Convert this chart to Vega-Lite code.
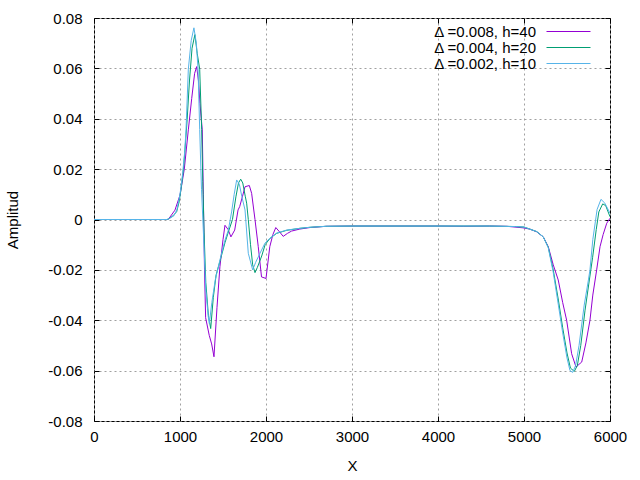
{
  "$schema": "https://vega.github.io/schema/vega-lite/v6.json",
  "width": 516,
  "height": 403,
  "autosize": {"type": "none"},
  "padding": {"left": 94, "top": 18, "right": 30, "bottom": 59},
  "background": "white",
  "config": {
    "view": {"stroke": "black", "strokeWidth": 1},
    "font": "Liberation Sans",
    "axis": {
      "labelFont": "Liberation Sans",
      "titleFont": "Liberation Sans",
      "labelFontSize": 15,
      "titleFontSize": 15,
      "titleFontWeight": "normal",
      "labelColor": "black",
      "titleColor": "black",
      "domain": false,
      "tickColor": "black",
      "gridColor": "#a0a0a0",
      "gridDash": [2, 3],
      "gridOpacity": 1
    }
  },
  "data": {
    "values": [
      {"s": "Δ =0.008, h=40", "x": 0, "y": 0},
      {"s": "Δ =0.008, h=40", "x": 800, "y": 0},
      {"s": "Δ =0.008, h=40", "x": 863, "y": 0},
      {"s": "Δ =0.008, h=40", "x": 941, "y": 0.0037},
      {"s": "Δ =0.008, h=40", "x": 1000, "y": 0.0097},
      {"s": "Δ =0.008, h=40", "x": 1050, "y": 0.02},
      {"s": "Δ =0.008, h=40", "x": 1097, "y": 0.0356},
      {"s": "Δ =0.008, h=40", "x": 1136, "y": 0.048},
      {"s": "Δ =0.008, h=40", "x": 1170, "y": 0.058},
      {"s": "Δ =0.008, h=40", "x": 1194, "y": 0.0607},
      {"s": "Δ =0.008, h=40", "x": 1215, "y": 0.055},
      {"s": "Δ =0.008, h=40", "x": 1232, "y": 0.046},
      {"s": "Δ =0.008, h=40", "x": 1259, "y": 0.0356},
      {"s": "Δ =0.008, h=40", "x": 1271, "y": 0.01},
      {"s": "Δ =0.008, h=40", "x": 1285, "y": -0.02},
      {"s": "Δ =0.008, h=40", "x": 1298, "y": -0.039},
      {"s": "Δ =0.008, h=40", "x": 1340, "y": -0.046},
      {"s": "Δ =0.008, h=40", "x": 1368, "y": -0.0494},
      {"s": "Δ =0.008, h=40", "x": 1395, "y": -0.0545},
      {"s": "Δ =0.008, h=40", "x": 1430, "y": -0.035},
      {"s": "Δ =0.008, h=40", "x": 1464, "y": -0.0188},
      {"s": "Δ =0.008, h=40", "x": 1500, "y": -0.008},
      {"s": "Δ =0.008, h=40", "x": 1523, "y": -0.0023},
      {"s": "Δ =0.008, h=40", "x": 1560, "y": -0.004},
      {"s": "Δ =0.008, h=40", "x": 1592, "y": -0.0069},
      {"s": "Δ =0.008, h=40", "x": 1636, "y": -0.0042},
      {"s": "Δ =0.008, h=40", "x": 1675, "y": 0.0038},
      {"s": "Δ =0.008, h=40", "x": 1694, "y": 0.0051},
      {"s": "Δ =0.008, h=40", "x": 1725, "y": 0.009},
      {"s": "Δ =0.008, h=40", "x": 1756, "y": 0.013},
      {"s": "Δ =0.008, h=40", "x": 1806, "y": 0.0135},
      {"s": "Δ =0.008, h=40", "x": 1833, "y": 0.0104},
      {"s": "Δ =0.008, h=40", "x": 1872, "y": 0},
      {"s": "Δ =0.008, h=40", "x": 1910, "y": -0.0108},
      {"s": "Δ =0.008, h=40", "x": 1948, "y": -0.0228},
      {"s": "Δ =0.008, h=40", "x": 2000, "y": -0.0234},
      {"s": "Δ =0.008, h=40", "x": 2044, "y": -0.0108},
      {"s": "Δ =0.008, h=40", "x": 2080, "y": -0.006},
      {"s": "Δ =0.008, h=40", "x": 2114, "y": -0.0032},
      {"s": "Δ =0.008, h=40", "x": 2160, "y": -0.005},
      {"s": "Δ =0.008, h=40", "x": 2200, "y": -0.0067},
      {"s": "Δ =0.008, h=40", "x": 2250, "y": -0.0055},
      {"s": "Δ =0.008, h=40", "x": 2297, "y": -0.0046},
      {"s": "Δ =0.008, h=40", "x": 2393, "y": -0.0038},
      {"s": "Δ =0.008, h=40", "x": 2510, "y": -0.0032},
      {"s": "Δ =0.008, h=40", "x": 2700, "y": -0.0027},
      {"s": "Δ =0.008, h=40", "x": 3000, "y": -0.0026},
      {"s": "Δ =0.008, h=40", "x": 4000, "y": -0.0026},
      {"s": "Δ =0.008, h=40", "x": 4300, "y": -0.0027},
      {"s": "Δ =0.008, h=40", "x": 4600, "y": -0.0026},
      {"s": "Δ =0.008, h=40", "x": 4800, "y": -0.0027},
      {"s": "Δ =0.008, h=40", "x": 4988, "y": -0.0033},
      {"s": "Δ =0.008, h=40", "x": 5066, "y": -0.0038},
      {"s": "Δ =0.008, h=40", "x": 5148, "y": -0.0049},
      {"s": "Δ =0.008, h=40", "x": 5224, "y": -0.0069},
      {"s": "Δ =0.008, h=40", "x": 5282, "y": -0.0108},
      {"s": "Δ =0.008, h=40", "x": 5340, "y": -0.018},
      {"s": "Δ =0.008, h=40", "x": 5398, "y": -0.024},
      {"s": "Δ =0.008, h=40", "x": 5450, "y": -0.033},
      {"s": "Δ =0.008, h=40", "x": 5496, "y": -0.04},
      {"s": "Δ =0.008, h=40", "x": 5554, "y": -0.0533},
      {"s": "Δ =0.008, h=40", "x": 5605, "y": -0.0586},
      {"s": "Δ =0.008, h=40", "x": 5640, "y": -0.0575},
      {"s": "Δ =0.008, h=40", "x": 5671, "y": -0.0566},
      {"s": "Δ =0.008, h=40", "x": 5720, "y": -0.049},
      {"s": "Δ =0.008, h=40", "x": 5767, "y": -0.04},
      {"s": "Δ =0.008, h=40", "x": 5800, "y": -0.03},
      {"s": "Δ =0.008, h=40", "x": 5845, "y": -0.02},
      {"s": "Δ =0.008, h=40", "x": 5884, "y": -0.0108},
      {"s": "Δ =0.008, h=40", "x": 5920, "y": -0.006},
      {"s": "Δ =0.008, h=40", "x": 5962, "y": -0.0015},
      {"s": "Δ =0.008, h=40", "x": 6000, "y": 0.0005},

      {"s": "Δ =0.004, h=20", "x": 0, "y": 0},
      {"s": "Δ =0.004, h=20", "x": 850, "y": 0},
      {"s": "Δ =0.004, h=20", "x": 880, "y": 0.0005},
      {"s": "Δ =0.004, h=20", "x": 920, "y": 0.0015},
      {"s": "Δ =0.004, h=20", "x": 961, "y": 0.0031},
      {"s": "Δ =0.004, h=20", "x": 990, "y": 0.007},
      {"s": "Δ =0.004, h=20", "x": 1016, "y": 0.013},
      {"s": "Δ =0.004, h=20", "x": 1040, "y": 0.02},
      {"s": "Δ =0.004, h=20", "x": 1055, "y": 0.0263},
      {"s": "Δ =0.004, h=20", "x": 1083, "y": 0.0396},
      {"s": "Δ =0.004, h=20", "x": 1110, "y": 0.055},
      {"s": "Δ =0.004, h=20", "x": 1140, "y": 0.068},
      {"s": "Δ =0.004, h=20", "x": 1173, "y": 0.0734},
      {"s": "Δ =0.004, h=20", "x": 1200, "y": 0.066},
      {"s": "Δ =0.004, h=20", "x": 1229, "y": 0.0597},
      {"s": "Δ =0.004, h=20", "x": 1252, "y": 0.0357},
      {"s": "Δ =0.004, h=20", "x": 1265, "y": 0.015},
      {"s": "Δ =0.004, h=20", "x": 1280, "y": -0.005},
      {"s": "Δ =0.004, h=20", "x": 1300, "y": -0.025},
      {"s": "Δ =0.004, h=20", "x": 1330, "y": -0.038},
      {"s": "Δ =0.004, h=20", "x": 1357, "y": -0.0433},
      {"s": "Δ =0.004, h=20", "x": 1387, "y": -0.031},
      {"s": "Δ =0.004, h=20", "x": 1420, "y": -0.022},
      {"s": "Δ =0.004, h=20", "x": 1465, "y": -0.0165},
      {"s": "Δ =0.004, h=20", "x": 1523, "y": -0.0092},
      {"s": "Δ =0.004, h=20", "x": 1562, "y": -0.005},
      {"s": "Δ =0.004, h=20", "x": 1610, "y": 0},
      {"s": "Δ =0.004, h=20", "x": 1650, "y": 0.009},
      {"s": "Δ =0.004, h=20", "x": 1680, "y": 0.0145},
      {"s": "Δ =0.004, h=20", "x": 1706, "y": 0.016},
      {"s": "Δ =0.004, h=20", "x": 1730, "y": 0.0145},
      {"s": "Δ =0.004, h=20", "x": 1760, "y": 0.009},
      {"s": "Δ =0.004, h=20", "x": 1775, "y": 0.0065},
      {"s": "Δ =0.004, h=20", "x": 1794, "y": 0},
      {"s": "Δ =0.004, h=20", "x": 1820, "y": -0.01},
      {"s": "Δ =0.004, h=20", "x": 1845, "y": -0.018},
      {"s": "Δ =0.004, h=20", "x": 1872, "y": -0.0211},
      {"s": "Δ =0.004, h=20", "x": 1900, "y": -0.019},
      {"s": "Δ =0.004, h=20", "x": 1950, "y": -0.0145},
      {"s": "Δ =0.004, h=20", "x": 1990, "y": -0.01},
      {"s": "Δ =0.004, h=20", "x": 2046, "y": -0.0075},
      {"s": "Δ =0.004, h=20", "x": 2124, "y": -0.0055},
      {"s": "Δ =0.004, h=20", "x": 2240, "y": -0.0043},
      {"s": "Δ =0.004, h=20", "x": 2393, "y": -0.0035},
      {"s": "Δ =0.004, h=20", "x": 2510, "y": -0.0031},
      {"s": "Δ =0.004, h=20", "x": 2700, "y": -0.0027},
      {"s": "Δ =0.004, h=20", "x": 3000, "y": -0.0026},
      {"s": "Δ =0.004, h=20", "x": 4000, "y": -0.0026},
      {"s": "Δ =0.004, h=20", "x": 4600, "y": -0.0026},
      {"s": "Δ =0.004, h=20", "x": 4900, "y": -0.0028},
      {"s": "Δ =0.004, h=20", "x": 5000, "y": -0.003},
      {"s": "Δ =0.004, h=20", "x": 5066, "y": -0.0038},
      {"s": "Δ =0.004, h=20", "x": 5148, "y": -0.0048},
      {"s": "Δ =0.004, h=20", "x": 5224, "y": -0.0069},
      {"s": "Δ =0.004, h=20", "x": 5282, "y": -0.011},
      {"s": "Δ =0.004, h=20", "x": 5340, "y": -0.02},
      {"s": "Δ =0.004, h=20", "x": 5400, "y": -0.032},
      {"s": "Δ =0.004, h=20", "x": 5450, "y": -0.043},
      {"s": "Δ =0.004, h=20", "x": 5500, "y": -0.053},
      {"s": "Δ =0.004, h=20", "x": 5540, "y": -0.059},
      {"s": "Δ =0.004, h=20", "x": 5585, "y": -0.0603},
      {"s": "Δ =0.004, h=20", "x": 5620, "y": -0.058},
      {"s": "Δ =0.004, h=20", "x": 5660, "y": -0.05},
      {"s": "Δ =0.004, h=20", "x": 5710, "y": -0.036},
      {"s": "Δ =0.004, h=20", "x": 5760, "y": -0.024},
      {"s": "Δ =0.004, h=20", "x": 5798, "y": -0.015},
      {"s": "Δ =0.004, h=20", "x": 5840, "y": -0.004},
      {"s": "Δ =0.004, h=20", "x": 5870, "y": 0.003},
      {"s": "Δ =0.004, h=20", "x": 5915, "y": 0.0062},
      {"s": "Δ =0.004, h=20", "x": 5950, "y": 0.0055},
      {"s": "Δ =0.004, h=20", "x": 6000, "y": 0.0011},

      {"s": "Δ =0.002, h=10", "x": 0, "y": 0},
      {"s": "Δ =0.002, h=10", "x": 850, "y": 0},
      {"s": "Δ =0.002, h=10", "x": 880, "y": 0.0005},
      {"s": "Δ =0.002, h=10", "x": 930, "y": 0.0015},
      {"s": "Δ =0.002, h=10", "x": 965, "y": 0.004},
      {"s": "Δ =0.002, h=10", "x": 1000, "y": 0.01},
      {"s": "Δ =0.002, h=10", "x": 1030, "y": 0.018},
      {"s": "Δ =0.002, h=10", "x": 1055, "y": 0.027},
      {"s": "Δ =0.002, h=10", "x": 1070, "y": 0.0357},
      {"s": "Δ =0.002, h=10", "x": 1097, "y": 0.0597},
      {"s": "Δ =0.002, h=10", "x": 1130, "y": 0.071},
      {"s": "Δ =0.002, h=10", "x": 1162, "y": 0.0761},
      {"s": "Δ =0.002, h=10", "x": 1190, "y": 0.07},
      {"s": "Δ =0.002, h=10", "x": 1210, "y": 0.0597},
      {"s": "Δ =0.002, h=10", "x": 1229, "y": 0.0357},
      {"s": "Δ =0.002, h=10", "x": 1250, "y": 0.012},
      {"s": "Δ =0.002, h=10", "x": 1271, "y": -0.0042},
      {"s": "Δ =0.002, h=10", "x": 1300, "y": -0.028},
      {"s": "Δ =0.002, h=10", "x": 1329, "y": -0.0387},
      {"s": "Δ =0.002, h=10", "x": 1341, "y": -0.0413},
      {"s": "Δ =0.002, h=10", "x": 1370, "y": -0.033},
      {"s": "Δ =0.002, h=10", "x": 1410, "y": -0.024},
      {"s": "Δ =0.002, h=10", "x": 1465, "y": -0.016},
      {"s": "Δ =0.002, h=10", "x": 1523, "y": -0.0082},
      {"s": "Δ =0.002, h=10", "x": 1562, "y": -0.0042},
      {"s": "Δ =0.002, h=10", "x": 1600, "y": 0.003},
      {"s": "Δ =0.002, h=10", "x": 1630, "y": 0.01},
      {"s": "Δ =0.002, h=10", "x": 1659, "y": 0.0157},
      {"s": "Δ =0.002, h=10", "x": 1690, "y": 0.014},
      {"s": "Δ =0.002, h=10", "x": 1720, "y": 0.009},
      {"s": "Δ =0.002, h=10", "x": 1756, "y": 0.0038},
      {"s": "Δ =0.002, h=10", "x": 1794, "y": -0.0134},
      {"s": "Δ =0.002, h=10", "x": 1845, "y": -0.02},
      {"s": "Δ =0.002, h=10", "x": 1880, "y": -0.017},
      {"s": "Δ =0.002, h=10", "x": 1930, "y": -0.0134},
      {"s": "Δ =0.002, h=10", "x": 1988, "y": -0.0094},
      {"s": "Δ =0.002, h=10", "x": 2046, "y": -0.0074},
      {"s": "Δ =0.002, h=10", "x": 2124, "y": -0.0054},
      {"s": "Δ =0.002, h=10", "x": 2240, "y": -0.0042},
      {"s": "Δ =0.002, h=10", "x": 2393, "y": -0.0035},
      {"s": "Δ =0.002, h=10", "x": 2510, "y": -0.0031},
      {"s": "Δ =0.002, h=10", "x": 2700, "y": -0.0027},
      {"s": "Δ =0.002, h=10", "x": 3000, "y": -0.0026},
      {"s": "Δ =0.002, h=10", "x": 4000, "y": -0.0026},
      {"s": "Δ =0.002, h=10", "x": 4600, "y": -0.0026},
      {"s": "Δ =0.002, h=10", "x": 4900, "y": -0.0028},
      {"s": "Δ =0.002, h=10", "x": 5000, "y": -0.003},
      {"s": "Δ =0.002, h=10", "x": 5066, "y": -0.0038},
      {"s": "Δ =0.002, h=10", "x": 5148, "y": -0.0048},
      {"s": "Δ =0.002, h=10", "x": 5224, "y": -0.0069},
      {"s": "Δ =0.002, h=10", "x": 5282, "y": -0.0112},
      {"s": "Δ =0.002, h=10", "x": 5340, "y": -0.021},
      {"s": "Δ =0.002, h=10", "x": 5400, "y": -0.034},
      {"s": "Δ =0.002, h=10", "x": 5450, "y": -0.045},
      {"s": "Δ =0.002, h=10", "x": 5500, "y": -0.055},
      {"s": "Δ =0.002, h=10", "x": 5535, "y": -0.06},
      {"s": "Δ =0.002, h=10", "x": 5566, "y": -0.0607},
      {"s": "Δ =0.002, h=10", "x": 5600, "y": -0.058},
      {"s": "Δ =0.002, h=10", "x": 5640, "y": -0.05},
      {"s": "Δ =0.002, h=10", "x": 5700, "y": -0.034},
      {"s": "Δ =0.002, h=10", "x": 5749, "y": -0.024},
      {"s": "Δ =0.002, h=10", "x": 5767, "y": -0.02},
      {"s": "Δ =0.002, h=10", "x": 5800, "y": -0.008},
      {"s": "Δ =0.002, h=10", "x": 5850, "y": 0.004},
      {"s": "Δ =0.002, h=10", "x": 5895, "y": 0.008},
      {"s": "Δ =0.002, h=10", "x": 5940, "y": 0.0065},
      {"s": "Δ =0.002, h=10", "x": 6000, "y": 0.0025}
    ]
  },
  "layer": [
    {
      "mark": {"type": "line", "strokeWidth": 1, "clip": true},
      "encoding": {
        "x": {
          "field": "x", "type": "quantitative",
          "scale": {"domain": [0, 6000], "nice": false, "zero": false},
          "axis": {
            "orient": "bottom", "values": [0, 1000, 2000, 3000, 4000, 5000, 6000],
            "format": "d", "title": "X", "grid": true, "tickSize": -5,
            "labelPadding": 13, "titlePadding": 14, "labelFlush": false
          }
        },
        "y": {
          "field": "y", "type": "quantitative",
          "scale": {"domain": [-0.08, 0.08], "nice": false, "zero": false},
          "axis": {
            "orient": "left",
            "values": [-0.08, -0.06, -0.04, -0.02, 0, 0.02, 0.04, 0.06, 0.08],
            "labelExpr": "datum.value == 0 ? '0' : replace(format(datum.value, '.2f'), '−', '-')",
            "title": "Amplitud", "grid": true, "tickSize": -5,
            "labelPadding": 17, "titlePadding": 27, "labelFlush": false
          }
        },
        "color": {
          "field": "s", "type": "nominal",
          "scale": {
            "domain": ["Δ =0.008, h=40", "Δ =0.004, h=20", "Δ =0.002, h=10"],
            "range": ["#9400d3", "#009e73", "#56b4e9"]
          },
          "legend": {
            "title": null,
            "orient": "none",
            "legendX": 467,
            "legendY": 6,
            "padding": 0,
            "symbolType": "M-4,0L4,0",
            "symbolSize": 121,
            "symbolStrokeWidth": 1,
            "labelAlign": "right",
            "labelOffset": -40,
            "labelFont": "Liberation Sans",
            "labelFontSize": 15,
            "labelColor": "black",
            "rowPadding": -2.5,
            "labelLimit": 300
          }
        }
      }
    },
    {
      "mark": {"type": "line", "opacity": 0},
      "encoding": {
        "x": {
          "field": "x", "type": "quantitative",
          "scale": {"domain": [0, 6000], "nice": false, "zero": false},
          "axis": {
            "orient": "top", "values": [0, 1000, 2000, 3000, 4000, 5000, 6000],
            "labels": false, "title": null, "grid": false, "tickSize": -5
          }
        },
        "y": {
          "field": "y", "type": "quantitative",
          "scale": {"domain": [-0.08, 0.08], "nice": false, "zero": false},
          "axis": {
            "orient": "right",
            "values": [-0.08, -0.06, -0.04, -0.02, 0, 0.02, 0.04, 0.06, 0.08],
            "labels": false, "title": null, "grid": false, "tickSize": -5
          }
        }
      }
    }
  ],
  "resolve": {"axis": {"x": "independent", "y": "independent"}}
}
